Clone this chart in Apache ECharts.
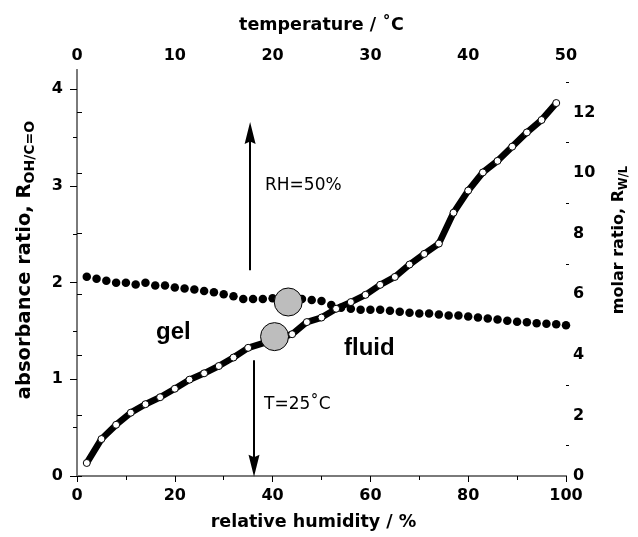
<!DOCTYPE html>
<html><head><meta charset="utf-8">
<script src="https://cdn.jsdelivr.net/npm/echarts@6/dist/echarts.min.js"></script>
<style>html,body{margin:0;padding:0;background:#fff}#c{width:638px;height:537px}</style>
</head><body><div id="c"></div>
<script>
// ---- data ----
const rhValues = [2,5,8,11,14,17,20,23,26,29,32,35,44,47,50,53,56,59,62,65,68,71,74,77,80,83,86,89,92,95,98];
const molarRatio = [0.43,1.22,1.69,2.09,2.37,2.60,2.88,3.18,3.39,3.63,3.91,4.23,4.68,5.08,5.23,5.52,5.74,5.98,6.31,6.57,6.98,7.33,7.67,8.69,9.42,10.02,10.40,10.87,11.34,11.75,12.31];
const temperatureC = [1,2,3,4,5,6,7,8,9,10,11,12,13,14,15,16,17,18,19,20,21,22,23,24,25,26,27,28,29,30,31,32,33,34,35,36,37,38,39,40,41,42,43,44,45,46,47,48,49,50];
const absorbanceRatio = [2.06,2.04,2.02,2.00,2.00,1.98,2.00,1.97,1.97,1.95,1.94,1.93,1.915,1.90,1.88,1.86,1.83,1.83,1.83,1.84,1.82,1.82,1.83,1.82,1.81,1.77,1.74,1.73,1.72,1.72,1.72,1.71,1.70,1.69,1.68,1.68,1.67,1.66,1.66,1.65,1.64,1.63,1.62,1.605,1.595,1.59,1.58,1.575,1.57,1.56];
const transitionTemp = [21.6], transitionAbs = [1.80];
const transitionRH = [40.4], transitionMolar = [4.6];
const arrowUp = {rh: 35.4, from: 6.79, to: 11.32};
const arrowDown = {rh: 36.2, from: 3.82, to: 0.34};
const absMajor = [0,1,2,3,4], absMinor = [0.5,1.5,2.5,3.5];
const molMajor = [0,2,4,6,8,10,12], molMinor = [1,3,5,7,9,11,13];

// ---- chart ----
const FONT = 'DejaVu Sans';
const AX = '#7a7a7a';
const lab = {color:'#000', fontFamily:FONT, fontWeight:'bold', fontSize:16};
const chart = echarts.init(document.getElementById('c'), null, {renderer:'canvas'});
const zip = (a,b) => a.map((v,i)=>[v,b[i]]);
function ax(extra){ return Object.assign({type:'value', splitLine:{show:false}}, extra); }
const arrowHead = 'path://M5.5,0 L11,22 L5.5,19.5 L0,22 Z';
chart.setOption({
  animation:false,
  backgroundColor:'#fff',
  grid:{left:77, right:67, top:70, bottom:61},
  xAxis:[
    ax({position:'bottom', min:0, max:100, interval:20,
      axisLine:{lineStyle:{color:AX,width:2}},
      axisTick:{length:6, inside:false, lineStyle:{color:'#000',width:1}},
      minorTick:{show:true, splitNumber:2, length:4, lineStyle:{color:'#000',width:1}},
      axisLabel:Object.assign({margin:12}, lab),
      name:'relative humidity / %', nameLocation:'middle', nameGap:37,
      nameTextStyle:{color:'#000', fontFamily:FONT, fontWeight:'bold', fontSize:17.5, padding:[0,16,0,0]}}),
    ax({position:'top', min:0, max:50, interval:10,
      axisLine:{lineStyle:{color:AX,width:2}},
      axisTick:{length:6, inside:true, lineStyle:{color:'#000',width:1}},
      minorTick:{show:true, splitNumber:2, length:4, lineStyle:{color:'#000',width:1}},
      axisLabel:Object.assign({margin:6}, lab),
      name:'temperature / ˚C', nameLocation:'middle', nameGap:36,
      nameTextStyle:{color:'#000', fontFamily:FONT, fontWeight:'bold', fontSize:17.5}})
  ],
  yAxis:[
    ax({position:'left', min:0, max:4.2, interval:1,
      axisLine:{lineStyle:{color:AX,width:2}},
      axisTick:{length:7, inside:false, customValues:absMajor, lineStyle:{color:'#000',width:1}},
      axisLabel:Object.assign({margin:14, customValues:absMajor}, lab),
      name:'{a|absorbance ratio, R}{b|OH/C=O}', nameLocation:'middle', nameGap:40, nameRotate:90,
      nameTextStyle:{padding:[0,0,0,26], rich:{
        a:{color:'#000', fontFamily:FONT, fontWeight:'bold', fontSize:19.5, lineHeight:22, verticalAlign:'top'},
        b:{color:'#000', fontFamily:FONT, fontWeight:'bold', fontSize:14, lineHeight:16, verticalAlign:'bottom', padding:[10,0,0,0]}}}}),
    ax({position:'right', min:0, max:13.4, interval:2,
      axisLine:{lineStyle:{color:AX,width:2}},
      axisTick:{length:5, inside:false, customValues:molMajor, lineStyle:{color:'#000',width:1}},
      axisLabel:Object.assign({margin:7, customValues:molMajor}, lab),
      name:'{a|molar ratio, R}{b|W/L}', nameLocation:'middle', nameGap:45, nameRotate:90,
      nameTextStyle:{padding:[0,0,0,66], rich:{
        a:{color:'#000', fontFamily:FONT, fontWeight:'bold', fontSize:16, lineHeight:19, verticalAlign:'top'},
        b:{color:'#000', fontFamily:FONT, fontWeight:'bold', fontSize:11.5, lineHeight:13, verticalAlign:'bottom', padding:[9,0,0,0]}}}}),
    ax({position:'left', offset:0, min:0, max:4.2, interval:1,
      axisLine:{show:false}, axisLabel:{show:false},
      axisTick:{length:4, inside:false, customValues:absMinor, lineStyle:{color:'#000',width:1}}}),
    ax({position:'right', offset:0, min:0, max:13.4, interval:2,
      axisLine:{show:false}, axisLabel:{show:false},
      axisTick:{length:3, inside:false, customValues:molMinor, lineStyle:{color:'#000',width:1}}})
  ],
  series:[
    {type:'scatter', xAxisIndex:1, yAxisIndex:0, data:zip(temperatureC, absorbanceRatio),
      symbol:'circle', symbolSize:8.5, itemStyle:{color:'#000', opacity:1}, z:3},
    {type:'line', xAxisIndex:0, yAxisIndex:1, data:zip(rhValues, molarRatio),
      lineStyle:{color:'#000', width:6.5}, symbol:'circle', symbolSize:7, showAllSymbol:true,
      itemStyle:{color:'#fff', borderColor:'#000', borderWidth:1}, z:4},
    {type:'scatter', xAxisIndex:1, yAxisIndex:0, data:zip(transitionTemp, transitionAbs),
      symbol:'circle', symbolSize:28, itemStyle:{color:'#bdbdbd', opacity:1, borderColor:'#000', borderWidth:1}, z:6},
    {type:'scatter', xAxisIndex:0, yAxisIndex:1, data:zip(transitionRH, transitionMolar),
      symbol:'circle', symbolSize:28, itemStyle:{color:'#bdbdbd', opacity:1, borderColor:'#000', borderWidth:1}, z:6},
    {type:'line', xAxisIndex:0, yAxisIndex:1, data:[], z:5,
      markLine:{silent:true, symbol:['none', arrowHead], symbolSize:[11,22], label:{show:false},
        lineStyle:{color:'#000', width:2, type:'solid', opacity:1},
        data:[
          [{coord:[arrowUp.rh, arrowUp.from]},{coord:[arrowUp.rh, arrowUp.to]}],
          [{coord:[arrowDown.rh, arrowDown.from]},{coord:[arrowDown.rh, arrowDown.to]}]
        ]}}
  ],
  graphic:[
    {type:'text', left:265, top:177, style:{text:'RH=50%', fill:'#000', font:'17px "DejaVu Sans"'}},
    {type:'text', left:264, top:396, style:{text:'T=25˚C', fill:'#000', font:'17px "DejaVu Sans"'}},
    {type:'text', left:156, top:320, style:{text:'gel', fill:'#000', font:'bold 24px "Liberation Sans"'}},
    {type:'text', left:344, top:336, style:{text:'fluid', fill:'#000', font:'bold 24px "Liberation Sans"'}}
  ]
});
</script></body></html>
